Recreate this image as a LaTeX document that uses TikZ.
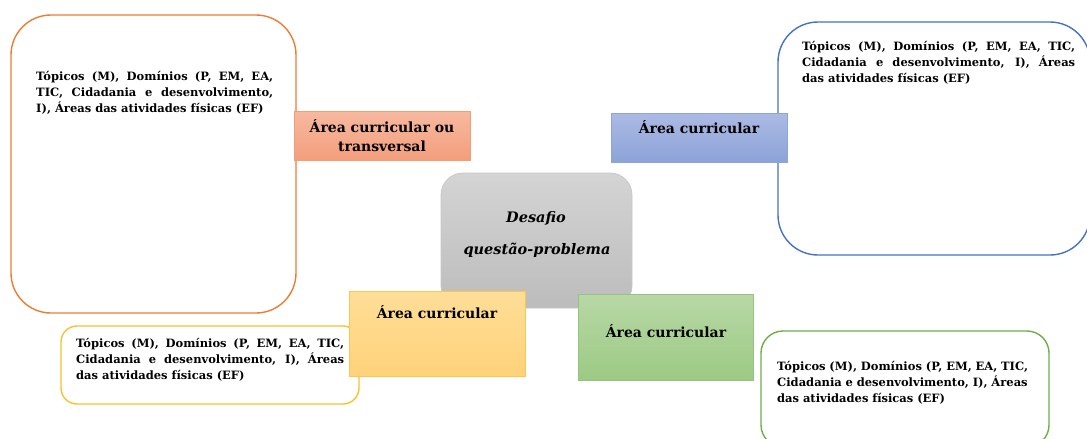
\documentclass[tikz,border=0pt]{standalone}
\usepackage{fontspec}
\setmainfont{DejaVu Serif}
\begin{document}
\begin{tikzpicture}[x=1pt,y=-1pt,
  bigbox/.style={draw, line width=1.4pt, fill=white, inner sep=0pt},
  smallbox/.style={draw, line width=0.8pt, inner sep=0pt},
  body/.style={anchor=north west, inner sep=0pt, align=justify, font=\bfseries\fontsize{11.5}{16}\selectfont},
  head/.style={inner sep=0pt, align=center, font=\bfseries\fontsize{14}{19}\selectfont}
]
\definecolor{obord}{HTML}{ED7D31}
\definecolor{bbord}{HTML}{4472C4}
\definecolor{ybord}{HTML}{F7C232}
\definecolor{gbord}{HTML}{70AD47}
\useasboundingbox (0,0) rectangle (1087,439);
\fill[white] (0,0) rectangle (1087,439);

% big rounded boxes
\node[bigbox, draw=obord, rounded corners=40pt, minimum width=285pt, minimum height=298pt] (ob) at (153.5,164) {};
\node[bigbox, draw=bbord, rounded corners=40pt, minimum width=312pt, minimum height=233pt] (bb) at (934,138.5) {};
\node[bigbox, draw=ybord, rounded corners=16pt, minimum width=298pt, minimum height=78pt] (yb) at (210,365) {};
\node[bigbox, draw=gbord, rounded corners=22pt, minimum width=288pt, minimum height=116pt] (gb) at (905,389) {};

% centre
\node[draw={rgb,255:red,200;green,200;blue,200}, line width=0.8pt, rounded corners=22pt,
  top color={rgb,255:red,212;green,212;blue,212}, bottom color={rgb,255:red,188;green,188;blue,188},
  minimum width=191pt, minimum height=135pt, inner sep=0pt] (c) at (536.5,240.5) {};

% small boxes
\node[smallbox, draw={rgb,255:red,240;green,160;blue,120},
  top color={rgb,255:red,247;green,185;blue,160}, bottom color={rgb,255:red,243;green,158;blue,124},
  minimum width=176pt, minimum height=49pt] (os) at (382,135.5) {};
\node[smallbox, draw={rgb,255:red,140;green,165;blue,218},
  top color={rgb,255:red,172;green,186;blue,228}, bottom color={rgb,255:red,140;green,163;blue,216},
  minimum width=176pt, minimum height=49pt] (bs) at (699,137.5) {};
\node[smallbox, draw={rgb,255:red,250;green,200;blue,80},
  top color={rgb,255:red,255;green,222;blue,152}, bottom color={rgb,255:red,255;green,210;blue,122},
  minimum width=176pt, minimum height=85pt] (ys) at (437,333.5) {};
\node[smallbox, draw={rgb,255:red,150;green,196;blue,128},
  top color={rgb,255:red,184;green,216;blue,166}, bottom color={rgb,255:red,156;green,202;blue,132},
  minimum width=175pt, minimum height=86pt] (gs) at (665.5,337) {};

% headings
\node[head] (osT) at (os.center) {Área curricular ou\\transversal};
\node[head] (bsT) at (699,127) {Área curricular};
\node[head] (ysT) at (437,312) {Área curricular};
\node[head] (gsT) at (666,331) {Área curricular};
\node[inner sep=0pt, font=\bfseries\itshape\fontsize{14.5}{19}\selectfont] (cT1) at (536,218) {Desafio};
\node[inner sep=0pt, font=\bfseries\itshape\fontsize{14.5}{19}\selectfont] (cT2) at (537,250) {questão-problema};

% body texts
\node[body, text width=237pt] (obT) at (36,71) {Tópicos (M), Domínios (P, EM, EA,\linebreak TIC, Cidadania e desenvolvimento,\linebreak I), Áreas das atividades físicas (EF)};
\node[body, text width=273pt] (bbT) at (802,41) {Tópicos (M), Domínios (P, EM, EA, TIC,\linebreak Cidadania e desenvolvimento, I), Áreas\linebreak das atividades físicas (EF)};
\node[body, text width=268pt] (ybT) at (76,338.5) {Tópicos (M), Domínios (P, EM, EA, TIC,\linebreak Cidadania e desenvolvimento, I), Áreas\linebreak das atividades físicas (EF)};
\node[body, align=left, text width=270pt] (gbT) at (777,361.5) {Tópicos (M), Domínios (P, EM, EA, TIC,\\ Cidadania e desenvolvimento, I), Áreas\\ das atividades físicas (EF)};
\end{tikzpicture}
\end{document}
